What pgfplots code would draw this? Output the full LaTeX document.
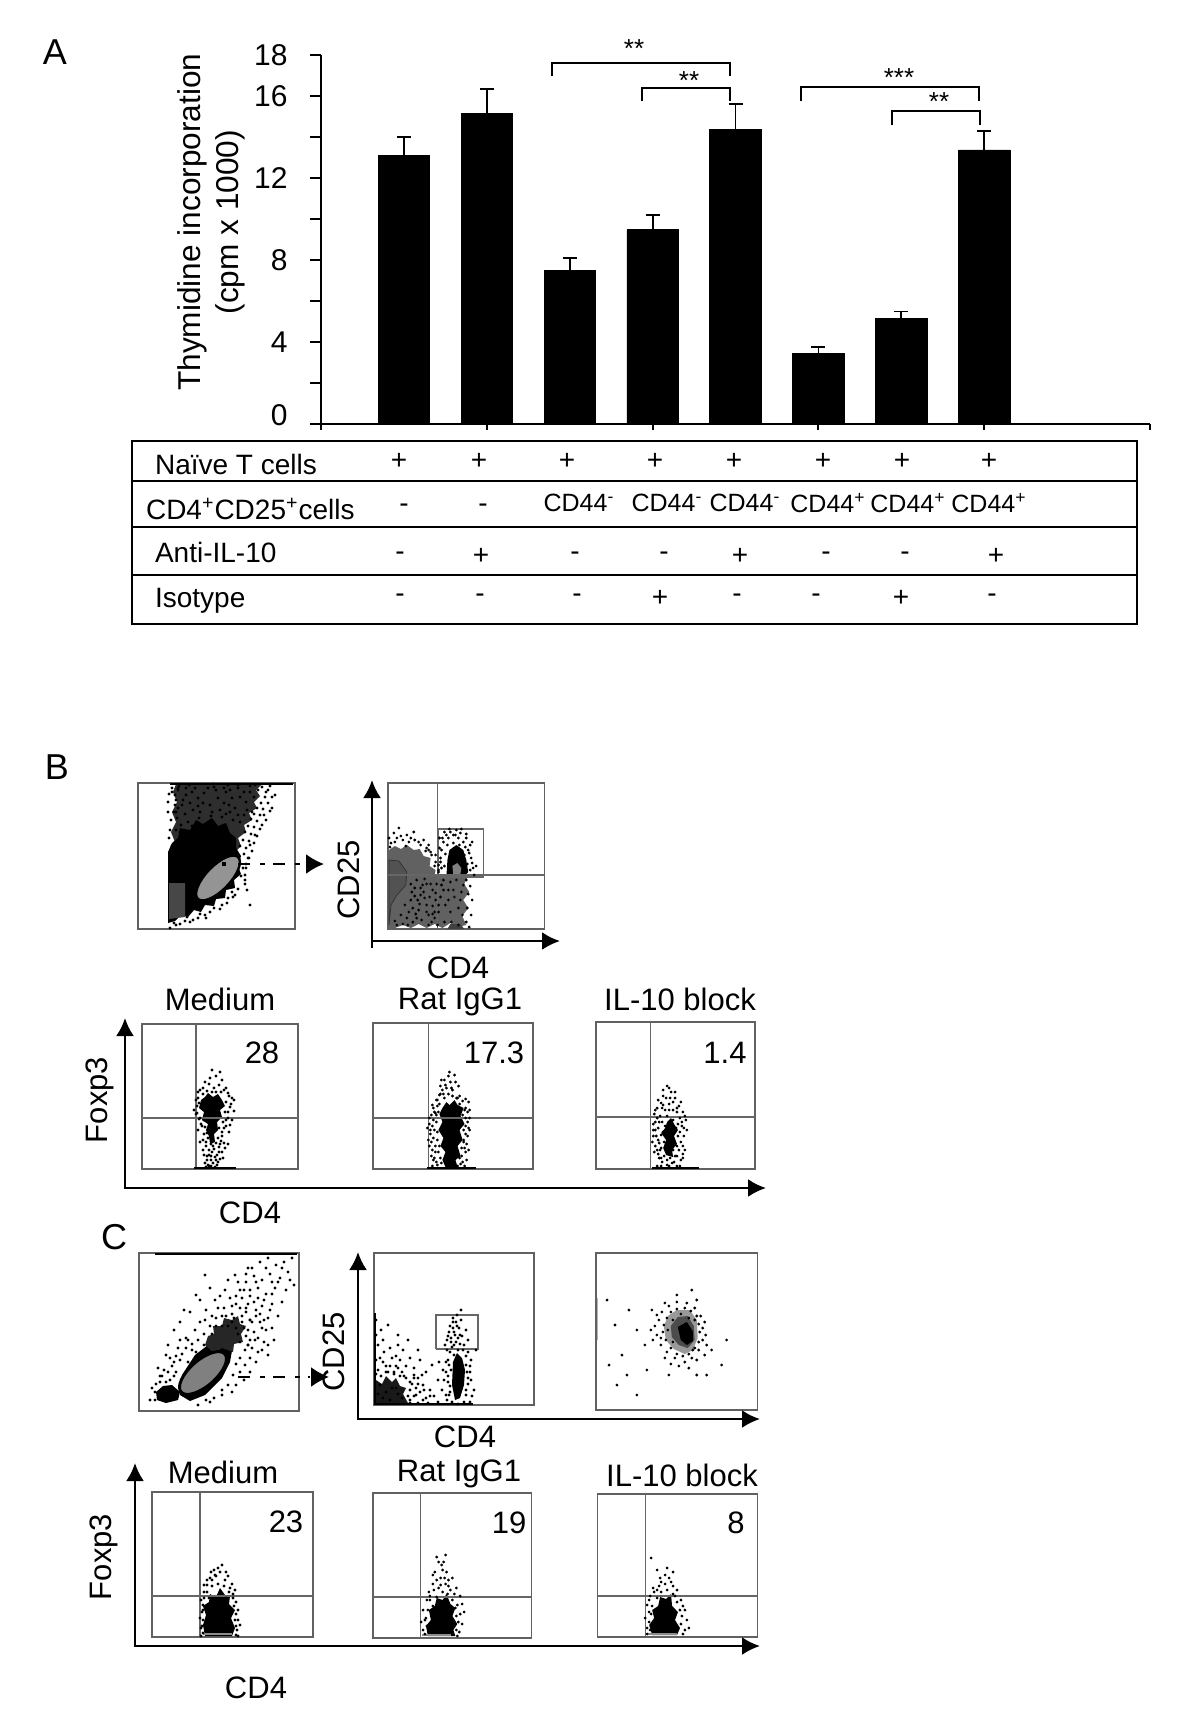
\documentclass[border=0pt]{standalone}
\usepackage{fontspec}
\setmainfont{Liberation Sans}
\usepackage{pgfplots}
\pgfplotsset{compat=1.18}
\usetikzlibrary{arrows.meta}
\newcommand\fs[1]{\fontsize{#1}{#1}\selectfont}
\pgfplotsset{
 flow/.style={scale only axis,anchor=center,ticks=none,y dir=reverse,
   axis line style={draw=black!62,line width=0.7pt}},
 dots/.style={only marks,mark=*,mark size=0.48pt,mark options={draw=none,fill=#1}},
 dots/.default=black,
 blob/.style={draw=none,fill=#1,forget plot},
 blob/.default=black,
 gate/.style={line width=0.55pt,draw=black!60,no marks},
}
\begin{document}
\begin{tikzpicture}
\path[use as bounding box] (0,0) rectangle (600pt,-859.5pt);
% ---------- panel A bars
\begin{axis}[anchor=south west,at={(160.5pt,-212pt)},scale only axis,width=414.5pt,height=184.5pt,
  xmin=0,xmax=10,ymin=0,ymax=18,axis lines=left,
  axis line style={-,line width=1pt},
  tick style={black,line width=1pt},tick align=outside,major tick length=5.5pt,
  xtick={2,4,6,8},xticklabels={},xtick style={yshift=2.75pt},
  ytick={0,2,...,18},
  yticklabels={\raisebox{8.5pt}{0},,4,,8,,12,,16,18},
  yticklabel style={font=\fs{15},inner sep=1pt,xshift=-10pt},
  ylabel={Thymidine incorporation\\(cpm x 1000)},
  every axis y label/.style={at={(axis description cs:-0.132,0.547)},rotate=90,anchor=center,align=center,font=\fontsize{15.8}{19}\selectfont},
  clip=false]
\addplot[ybar,bar width=25.7pt,fill=black,draw=black,
  error bars/.cd,y dir=plus,y explicit,
  error bar style={line width=0.9pt,black},
  error mark options={line width=0.9pt,mark size=3.5pt,black,rotate=90}]
 coordinates {
 (1,13.1) +- (0,0.9)
 (2,15.15) +- (0,1.21)
 (3,7.47) +- (0,0.62)
 (4,9.47) +- (0,0.73)
 (5,14.36) +- (0,1.24)
 (6,3.46) +- (0,0.28)
 (7,5.14) +- (0,0.35)
 (8,13.37) +- (0,0.93)};
\draw[line width=1pt] (axis cs:10,0)--++(0,-2.75pt);
\draw[line width=1pt] (axis cs:0,0)--++(0,-2.75pt);
\end{axis}
% ---------- panel B flow plots
\begin{axis}[flow,at={(108.25pt,-428pt)},width=78.5pt,height=73pt,xmin=138,xmax=295,ymin=783,ymax=929]
\addplot[blob=black!82] coordinates {(176,784)(262,784)(256,790)(260,796)(254,802)(257,808)(249,813)(252,820)(244,825)(246,832)(238,838)(241,846)(235,852)(237,860)(176,860)(170,850)(175,842)(171,832)(176,822)(172,812)(177,802)(173,792)} --cycle;
\addplot[blob] coordinates {(168,923)(168,852)(172,843)(178,838)(180,828)(190,830)(196,820)(203,824)(212,818)(218,826)(226,823)(230,833)(236,838)(236,848)(241,856)(238,866)(241,874)(234,880)(235,888)(226,890)(225,898)(216,899)(214,906)(205,905)(201,912)(194,910)(188,917)(181,915)(175,921)} --cycle;
\addplot[blob=black!72] coordinates {(169,883)(185,883)(185,917)(169,919)} --cycle;
\addplot[dots] coordinates {(172,792)(176,800)(168,812)(170,830)(268,790)(275,795)(272,808)(264,815)(262,825)(255,835)(250,845)(248,858)(246,868)(245,880)(228,898)(222,905)(210,912)(198,918)(185,921)(176,925)(170,928)(255,785)(245,875)(247,890)(235,895)(250,905)(205,915)(190,922)(232,892)
(270,786)(262,787)(266,792)(258,790)(272,797)(265,797)(261,803)(268,803)(257,808)(263,809)(270,811)(254,814)(260,815)(266,820)(251,819)(257,821)(248,826)(254,827)(260,829)(245,832)(251,834)(257,836)(243,840)(249,841)(254,843)(240,846)(246,848)(252,851)(244,854)(249,858)(246,864)(243,868)(241,876)(245,884)(238,889)(233,897)(227,903)(220,909)(214,908)(206,918)(200,914)(193,920)(187,917)(180,924)(174,923)(172,788)(169,794)(175,805)(178,788)(168,802)(171,820)(176,812)(169,838)(172,846)(230,790)(238,785)(250,786)(189,785)(213,784)(228,785)};
\addplot[dots=white] coordinates {(178,790)(186,795)(195,788)(204,793)(214,787)(226,792)(238,788)(250,792)(182,805)(193,810)(203,803)(212,812)(224,803)(235,808)(246,802)(177,818)(188,822)(199,818)(211,816)(222,817)(233,820)(244,815)(180,832)(192,826)(174,812)(198,798)(218,798)(230,812)(208,788)(175,795)(240,797)(185,814)(179,786)(183,800)(178,808)(186,788)(181,825)(190,803)(176,830)(200,812)(210,805)(220,810)(229,805)(238,815)(247,810)(216,790)(192,792)(232,798)(224,788)(244,792)(254,797)(252,812)(240,822)(226,814)(198,806)};
\addplot[line width=1pt,black,no marks] coordinates {(170,784)(293,784)};
\end{axis}
\begin{axis}[flow,at={(233.125pt,-428pt)},width=78.25pt,height=73pt,xmin=389,xmax=547,ymin=783,ymax=929]
\addplot[blob=black!62] coordinates {(390,850)(396,846)(402,849)(408,845)(415,850)(421,849)(425,856)(432,858)(431,866)(437,870)(436,875)(470,875)(466,884)(471,892)(465,900)(470,908)(464,916)(468,925)(458,927)(452,923)(444,928)(436,924)(428,928)(420,924)(412,928)(404,925)(396,928)(390,928)} --cycle;
\addplot[fill=black!68,draw=black!80,line width=0.4pt,forget plot] coordinates {(390,860)(400,861)(408,872)(407,885)(398,895)(392,905)(390,925)} --cycle;
\addplot[dots=black!62] coordinates {(392,843)(398,838)(404,840)(412,838)(420,842)(428,848)(408,835)(395,833)(432,852)(437,855)(425,840)(415,832)(400,828)(430,845)(390,838)(396,842)(402,836)(410,842)(416,840)(422,845)(427,851)(433,855)(437,862)(391,847)(407,846)(430,850)(440,870)(436,866)(468,880)(472,886)(470,894)(474,900)(469,908)(473,915)(468,922)(471,927)};
\addplot[dots=white] coordinates {(416,888)(422,895)(428,905)(434,890)(420,910)(430,915)(437,900)(412,900)(418,918)(424,885)(433,922)(440,905)(445,890)(450,900)(455,890)(460,908)(443,885)(465,885)(426,898)(436,912)(414,922)(452,882)(408,918)(404,924)(396,921)(412,884)(418,880)(426,879)(432,884)(438,884)(413,892)(419,900)(425,892)(431,897)(437,893)(414,908)(421,904)(428,912)(434,906)(440,912)(417,914)(423,920)(430,925)(436,918)(442,897)(447,905)(452,912)(456,897)(462,900)(446,922)(453,922)(460,925)(464,915)(410,912)(406,905)(402,915)(398,925)(409,925)(445,880)(458,880)(463,892)(450,890)(439,925)(422,888)(428,884)(416,896)(434,914)};
\addplot[blob] coordinates {(449,860)(451,850)(458,845)(465,850)(468,860)(470,872)(466,876)(448,876)} --cycle;
\addplot[blob=black!50] coordinates {(454,866)(459,863)(463,868)(462,875)(455,875)} --cycle;
\addplot[dots] coordinates {(441,848)(445,842)(450,838)(455,835)(460,838)(465,842)(470,850)(473,858)(475,868)(442,858)(443,868)(452,832)(458,830)(468,838)(472,845)(440,865)(476,875)(462,833)(448,835)(466,855)(441,838)(446,832)(451,829)(457,835)(463,829)(468,834)(474,842)(444,838)(449,845)(455,843)(461,845)(467,847)(443,850)(447,854)(471,853)(474,863)(442,862)(440,872)(472,870)(478,866)(446,866)(469,864)};
\addplot[blob=black!75] coordinates {(449,929)(452,924)(462,924)(466,929)} --cycle;
\addplot[gate] coordinates {(439,783)(439,929)};
\addplot[gate] coordinates {(389,875)(547,875)};
\addplot[gate] coordinates {(440,877)(440,829)(485,829)(485,877)(440,877)};
\end{axis}
\begin{axis}[flow,at={(110pt,-548.25pt)},width=78pt,height=72.5pt,xmin=142,xmax=298,ymin=1024,ymax=1169]
\addplot[blob] coordinates {(201,1100)(205,1097)(208,1093)(213,1097)(218,1094)(222,1100)(225,1106)(220,1110)(222,1117)(217,1122)(218,1130)(214,1134)(215,1142)(210,1144)(209,1136)(206,1130)(208,1124)(202,1120)(204,1112)(199,1108)} --cycle;
\addplot[dots] coordinates {(205,1082)(210,1078)(216,1076)(222,1080)(200,1090)(198,1098)(226,1088)(229,1096)(231,1104)(197,1106)(196,1114)(228,1112)(226,1120)(200,1118)(202,1126)(224,1128)(222,1136)(204,1134)(206,1142)(220,1144)(203,1150)(207,1156)(219,1152)(223,1158)(211,1160)(215,1157)(205,1163)(217,1165)(212,1070)(220,1072)(209,1166)(213,1146)(208,1165)(234,1100)(194,1110)(228,1144)(200,1142)(212,1152)(218,1162)(209,1155)(225,1148)(198,1130)(230,1125)
(198,1092)(203,1088)(209,1084)(214,1088)(219,1085)(224,1090)(228,1093)(232,1098)(196,1100)(199,1103)(226,1102)(230,1107)(234,1111)(197,1113)(199,1119)(225,1112)(228,1118)(232,1120)(201,1124)(204,1120)(223,1122)(226,1126)(229,1132)(205,1127)(207,1133)(219,1128)(222,1132)(208,1138)(203,1140)(218,1138)(221,1141)(206,1146)(211,1144)(216,1143)(219,1147)(224,1143)(204,1155)(209,1150)(214,1149)(217,1155)(222,1152)(207,1160)(211,1156)(216,1160)(220,1159)(206,1167)(213,1163)(211,1166)(215,1167)(203,1094)(207,1091)(216,1092)(221,1092)(212,1092)};
\addplot[gate] coordinates {(196,1024)(196,1169)};
\addplot[gate] coordinates {(142,1118)(299,1118)};
\addplot[line width=0.8pt,black,no marks] coordinates {(194,1168)(236,1168)};
\end{axis}
\begin{axis}[flow,at={(226.5pt,-548pt)},width=80pt,height=73pt,xmin=374,xmax=533,ymin=1023,ymax=1169]
\addplot[blob] coordinates {(443,1108)(447,1102)(450,1105)(455,1100)(458,1105)(464,1108)(461,1116)(465,1124)(460,1130)(463,1140)(458,1146)(461,1156)(456,1160)(458,1167)(446,1167)(443,1160)(446,1152)(441,1146)(444,1138)(439,1130)(443,1122)(440,1114)} --cycle;
\addplot[dots] coordinates {(440,1095)(447,1088)(453,1090)(460,1096)(433,1105)(466,1108)(430,1118)(468,1122)(431,1130)(466,1134)(432,1142)(465,1148)(436,1152)(462,1156)(437,1162)(461,1164)(442,1080)(450,1072)(456,1082)(428,1128)(470,1130)(434,1160)(464,1142)(444,1094)(457,1098)(438,1100)(463,1115)(429,1140)(467,1160)(455,1075)(446,1085)(469,1102)(433,1150)(460,1104)(435,1112)
(437,1100)(441,1094)(445,1098)(449,1094)(453,1096)(458,1098)(463,1101)(466,1099)(434,1108)(438,1106)(465,1110)(468,1112)(432,1115)(436,1113)(439,1112)(466,1118)(470,1118)(430,1124)(434,1120)(437,1122)(466,1126)(469,1128)(431,1134)(435,1130)(438,1132)(464,1130)(468,1136)(430,1146)(434,1138)(438,1140)(440,1146)(464,1140)(467,1144)(432,1156)(436,1146)(439,1152)(441,1158)(462,1148)(466,1152)(435,1158)(438,1165)(442,1163)(460,1158)(463,1162)(433,1166)(458,1166)(465,1166)(441,1086)(445,1080)(451,1082)(459,1086)(449,1076)(440,1104)(443,1090)(452,1088)(437,1115)(470,1110)(433,1126)(469,1150)};
\addplot[gate] coordinates {(429,1023)(429,1169)};
\addplot[gate] coordinates {(374,1118)(533,1118)};
\addplot[line width=0.8pt,black,no marks] coordinates {(428,1168)(476,1168)};
\end{axis}
\begin{axis}[flow,at={(337.75pt,-547.75pt)},width=79.5pt,height=73.5pt,xmin=598,xmax=759,ymin=1022,ymax=1169]
\addplot[blob] coordinates {(670,1122)(674,1118)(677,1124)(681,1130)(677,1136)(680,1144)(675,1150)(676,1157)(669,1155)(666,1148)(669,1140)(664,1133)(668,1128)} --cycle;
\addplot[dots] coordinates {(670,1086)(674,1092)(666,1096)(678,1098)(664,1103)(672,1104)(682,1106)(660,1108)(668,1110)(676,1110)(686,1112)(657,1114)(663,1116)(683,1118)(689,1120)(658,1122)(661,1128)(685,1126)(656,1130)(683,1132)(687,1136)(659,1136)(655,1142)(662,1143)(684,1142)(660,1150)(682,1150)(688,1150)(657,1152)(662,1158)(678,1156)(684,1160)(665,1162)(675,1163)(670,1165)(680,1166)(660,1166)(666,1105)(680,1112)(673,1098)(665,1122)(681,1124)(687,1128)(664,1135)(663,1150)(686,1158)
(666,1090)(672,1088)(678,1092)(669,1098)(661,1100)(676,1102)(684,1102)(658,1110)(665,1108)(672,1110)(680,1108)(688,1116)(660,1118)(670,1116)(676,1120)(685,1122)(656,1124)(662,1122)(668,1126)(679,1128)(690,1130)(658,1130)(666,1132)(675,1134)(681,1136)(656,1136)(661,1140)(667,1142)(674,1144)(680,1146)(686,1146)(658,1146)(664,1148)(670,1152)(676,1150)(661,1154)(667,1156)(673,1158)(680,1156)(686,1154)(664,1158)(670,1160)(677,1162)(672,1166)(664,1166)(683,1166)};
\addplot[gate] coordinates {(653,1022)(653,1169)};
\addplot[gate] coordinates {(598,1117)(759,1117)};
\addplot[line width=0.8pt,black,no marks] coordinates {(655,1168)(702,1168)};
\end{axis}
% ---------- panel C flow plots
\begin{axis}[flow,at={(109.5pt,-666pt)},width=80pt,height=79pt,xmin=139,xmax=299,ymin=1253,ymax=1411]
\addplot[blob] coordinates {(157,1400)(156,1392)(163,1386)(172,1385)(180,1392)(178,1400)(166,1403)} --cycle;
\addplot[blob] coordinates {(180,1395)(182,1375)(195,1355)(212,1342)(228,1335)(233,1345)(230,1362)(222,1378)(205,1395)(190,1401)} --cycle;
\addplot[blob=black!85] coordinates {(205,1345)(208,1336)(214,1334)(213,1326)(222,1326)(224,1318)(232,1320)(238,1316)(240,1324)(246,1326)(241,1334)(243,1342)(234,1344)(233,1352)(222,1348)(214,1353)} --cycle;
\addplot[dots] coordinates {(292,1258)(284,1262)(276,1265)(268,1258)(260,1262)(252,1268)(288,1272)(280,1278)(270,1274)(262,1280)(254,1276)(246,1282)(294,1285)(286,1290)(275,1288)(266,1294)(258,1288)(250,1296)(240,1290)(282,1302)(272,1304)(262,1306)(254,1302)(246,1308)(236,1304)(230,1298)(278,1316)(268,1318)(260,1314)(250,1320)(242,1316)(232,1314)(224,1308)(215,1300)(272,1328)(262,1328)(254,1332)(244,1328)(274,1340)(264,1342)(255,1340)(248,1345)(240,1342)(268,1355)(258,1352)(250,1358)(245,1365)(240,1372)(236,1385)(232,1392)(222,1395)(210,1402)(198,1405)(205,1320)(195,1330)(186,1338)(178,1348)(170,1358)(164,1370)(160,1382)(155,1392)(190,1312)(200,1300)(210,1288)(180,1322)(168,1345)(174,1362)(162,1376)(182,1354)(192,1344)(150,1400)(205,1275)(248,1268)(235,1275)(225,1290)(216,1318)(222,1326)(212,1334)(204,1345)(196,1352)(188,1362)(232,1322)(238,1334)(246,1336)(252,1348)(176,1372)(170,1380)(164,1390)
(250,1320)(246,1312)(240,1308)(234,1318)(228,1326)(222,1316)(216,1326)(210,1326)(204,1334)(198,1340)(192,1350)(186,1348)(180,1360)(176,1356)(172,1366)(168,1372)(160,1376)(156,1384)(152,1388)(155,1400)(236,1328)(242,1322)(248,1330)(252,1322)(256,1316)(260,1322)(258,1338)(250,1340)(245,1350)(240,1358)(236,1364)(233,1375)(228,1385)(222,1390)(214,1398)(206,1400)(264,1320)(266,1330)(270,1310)(256,1310)(248,1304)(242,1298)(236,1296)(250,1290)(258,1298)(264,1300)(272,1294)(278,1282)(266,1268)(272,1282)(282,1268)(290,1280)(256,1282)(244,1290)(232,1306)(226,1316)(218,1308)(212,1316)(206,1310)(200,1322)(246,1274)(238,1282)(228,1280)(220,1296)(196,1295)(184,1310)(174,1330)(166,1355)(158,1368)(160,1392)(166,1382)(174,1376)(188,1340)(180,1340)(248,1345)(262,1350)(268,1345)(256,1362)(250,1372)(244,1380)};
\addplot[line width=0.8pt,black,no marks] coordinates {(155,1254)(297,1254)};
\end{axis}
\begin{axis}[flow,at={(227pt,-664.5pt)},width=80pt,height=76pt,xmin=376,xmax=536,ymin=1253,ymax=1405]
\addplot[blob=black!90] coordinates {(378,1403)(378,1380)(384,1384)(388,1376)(394,1382)(398,1378)(402,1386)(408,1388)(405,1394)(410,1403)} --cycle;
\addplot[blob] coordinates {(455,1362)(459,1353)(464,1358)(467,1370)(466,1385)(462,1398)(457,1400)(454,1385)} --cycle;
\addplot[dots=white] coordinates {(382,1385)(388,1392)(394,1388)(400,1394)(385,1398)(392,1400)(380,1394)(398,1388)(404,1398)};
\addplot[dots] coordinates {(380,1345)(386,1352)(392,1348)(398,1356)(405,1350)(412,1358)(385,1362)(392,1366)(400,1368)(408,1366)(416,1368)(422,1360)(428,1372)(420,1378)(414,1384)(425,1385)(432,1390)(418,1395)(428,1398)(436,1396)(440,1380)(445,1370)(383,1330)(390,1325)(400,1335)(410,1340)(396,1372)(406,1376)(380,1370)(388,1372)(418,1388)(412,1400)(430,1403)(440,1402)(420,1350)(434,1365)(400,1345)(385,1340)(378,1320)(378,1335)(455,1318)(458,1322)(452,1326)(461,1328)(456,1332)(450,1336)(464,1336)(453,1342)(466,1345)(449,1350)(470,1352)(450,1360)(468,1365)(472,1372)(448,1372)(450,1382)(470,1384)(452,1392)(468,1395)(449,1400)(472,1402)(444,1390)(476,1390)(459,1315)(463,1310)(441,1362)(478,1350)(447,1345)(462,1335)(456,1345)(473,1360)
(378,1374)(383,1376)(390,1372)(396,1374)(402,1376)(408,1378)(412,1382)(416,1378)(420,1384)(412,1390)(416,1396)(422,1392)(426,1390)(410,1396)(412,1403)(420,1403)(425,1400)(432,1396)(404,1372)(398,1366)(388,1366)(382,1358)(378,1360)(394,1358)(402,1360)(416,1375)(424,1375)
(455,1322)(459,1326)(455,1328)(457,1335)(460,1338)(453,1338)(458,1342)(462,1344)(454,1347)(460,1350)(465,1350)(452,1352)(456,1355)(468,1356)(451,1365)(453,1370)(469,1372)(450,1376)(470,1378)(452,1386)(468,1390)(451,1395)(454,1402)(466,1402)(460,1404)(448,1362)(472,1366)(446,1380)(473,1380)(448,1395)(474,1396)(463,1320)(468,1330)(470,1340)(451,1332)(449,1340)};
\addplot[gate] coordinates {(438,1349)(438,1315)(480,1315)(480,1349)(438,1349)};
\addplot[line width=0.7pt,black,no marks] coordinates {(377,1313)(377,1404)(475,1404)};
\end{axis}
\begin{axis}[flow,at={(338.4pt,-665.75pt)},width=80.75pt,height=78.5pt,xmin=599,xmax=761,ymin=1253,ymax=1410]
\addplot[dots=black!25] coordinates {(610,1300)(618,1325)(625,1355)(632,1310)(640,1330)(612,1365)(630,1375)(620,1385)(648,1345)(655,1310)(650,1370)(640,1395)(715,1350)(725,1365)(710,1375)(730,1340)(680,1295)(695,1290)(700,1375)(672,1375)};
\addplot[dots=black!50] coordinates {(662,1320)(665,1312)(672,1306)(680,1302)(690,1303)(698,1308)(704,1316)(706,1328)(706,1340)(702,1350)(695,1358)(688,1362)(678,1358)(670,1352)(664,1345)(660,1335)(658,1326)(668,1303)(700,1300)(709,1335)(682,1366)(692,1368)(674,1364)(656,1340)};
\addplot[blob=black!40] coordinates {(667,1326)(671,1316)(680,1310)(693,1310)(700,1320)(701,1338)(696,1350)(688,1354)(677,1349)(669,1340)} --cycle;
\addplot[dots=black!70] coordinates {(670,1318)(674,1312)(680,1309)(688,1308)(694,1311)(700,1316)(702,1324)(703,1332)(702,1342)(698,1348)(692,1354)(686,1356)(680,1354)(674,1348)(669,1340)(666,1332)(667,1325)(671,1330)(676,1320)(684,1314)(692,1318)(698,1320)(696,1350)(676,1342)(664,1338)(708,1322)(710,1345)(660,1315)(654,1330)(668,1358)(700,1360)(708,1355)};
\addplot[blob=black!70] coordinates {(674,1326)(681,1317)(691,1316)(697,1326)(698,1340)(691,1348)(682,1345)(675,1337)} --cycle;
\addplot[blob] coordinates {(681,1327)(690,1322)(696,1331)(696,1341)(690,1345)(684,1340)} --cycle;
\addplot[line width=0.4pt,black!30,no marks] coordinates {(600,1298)(600,1340)};
\end{axis}
\begin{axis}[flow,at={(116.25pt,-782.25pt)},width=80.5pt,height=72.5pt,xmin=152,xmax=313,ymin=1492,ymax=1637]
\addplot[blob] coordinates {(205,1636)(203,1625)(206,1615)(203,1606)(209,1602)(210,1594)(216,1597)(220,1588)(225,1595)(230,1596)(229,1604)(235,1610)(231,1618)(235,1628)(232,1636)} --cycle;
\addplot[dots] coordinates {(215,1575)(220,1572)(212,1580)(225,1580)(207,1585)(230,1588)(204,1592)(233,1594)(201,1600)(236,1602)(203,1610)(238,1610)(200,1618)(238,1620)(201,1628)(237,1630)(210,1578)(228,1576)(218,1568)(222,1565)(214,1570)(235,1590)(240,1625)(207,1580)(232,1584)(204,1598)(207,1592)(212,1586)(218,1584)(224,1586)(229,1592)(233,1598)(203,1605)(234,1606)(202,1612)(236,1614)(203,1620)(235,1620)(202,1626)(236,1626)(203,1633)(236,1635)(201,1636)(238,1636)(209,1598)(226,1598)(216,1576)(211,1572)(226,1572)(204,1585)};
\addplot[gate] coordinates {(200,1492)(200,1637)};
\addplot[gate] coordinates {(152,1596)(313,1596)};
\addplot[line width=0.8pt,black!45,no marks] coordinates {(203,1634)(232,1634)};
\end{axis}
\begin{axis}[flow,at={(226.2pt,-782.75pt)},width=79.3pt,height=72.5pt,xmin=375,xmax=537,ymin=1493,ymax=1638]
\addplot[blob] coordinates {(431,1636)(429,1626)(434,1620)(432,1610)(438,1606)(440,1598)(446,1600)(450,1594)(454,1604)(459,1608)(456,1616)(461,1624)(457,1630)(459,1636)} --cycle;
\addplot[dots] coordinates {(440,1557)(445,1565)(438,1572)(450,1572)(444,1578)(456,1578)(436,1584)(449,1584)(460,1588)(432,1592)(464,1596)(430,1600)(466,1604)(426,1610)(464,1614)(428,1620)(466,1624)(426,1630)(463,1632)(442,1588)(454,1590)(437,1590)(458,1594)(447,1562)(452,1580)(468,1612)(424,1622)(433,1596)(461,1605)(436,1575)(433,1600)(436,1606)(440,1597)(446,1592)(451,1594)(456,1600)(459,1608)(431,1610)(460,1616)(429,1618)(462,1622)(430,1626)(460,1630)(428,1634)(461,1636)(444,1585)(448,1578)(440,1580)(452,1586)(446,1570)(442,1562)(449,1555)};
\addplot[gate] coordinates {(423,1493)(423,1638)};
\addplot[gate] coordinates {(375,1597)(537,1597)};
\addplot[line width=0.8pt,black!45,no marks] coordinates {(425,1635)(455,1635)};
\end{axis}
\begin{axis}[flow,at={(338.75pt,-782.75pt)},width=80pt,height=71.5pt,xmin=600,xmax=761,ymin=1494,ymax=1637]
\addplot[blob] coordinates {(655,1635)(652,1625)(657,1618)(655,1610)(661,1606)(663,1597)(669,1599)(674,1594)(675,1606)(681,1612)(678,1620)(683,1628)(680,1635)} --cycle;
\addplot[dots] coordinates {(660,1570)(668,1575)(664,1582)(674,1582)(656,1588)(680,1590)(653,1596)(684,1600)(650,1605)(688,1610)(648,1618)(690,1620)(650,1628)(688,1630)(662,1586)(672,1578)(678,1596)(657,1592)(686,1606)(652,1612)(654,1558)(692,1628)(676,1572)(652,1600)(655,1606)(660,1598)(664,1592)(670,1590)(676,1594)(680,1602)(683,1610)(654,1614)(685,1616)(652,1622)(684,1624)(653,1630)(686,1634)(660,1590)(668,1584)(676,1586)(650,1634)(663,1578)(670,1568)};
\addplot[gate] coordinates {(648,1494)(648,1637)};
\addplot[gate] coordinates {(600,1596)(761,1596)};
\addplot[line width=0.8pt,black!45,no marks] coordinates {(650,1634)(680,1634)};
\end{axis}
% ---------- annotations in reference pixels
\begin{scope}[x=0.5pt,y=-0.5pt]
\node[font=\fs{18}] at (55,52) {A};
\node[font=\fs{18}] at (57,767) {B};
\node[font=\fs{18}] at (114,1237) {C};
% brackets
\draw[line width=1.2pt] (552,76)--(552,63)--(730,63)--(730,76);
\draw[line width=1.2pt] (642,101)--(642,88)--(730,88)--(730,101);
\draw[line width=1.2pt] (801,101)--(801,87)--(979,87)--(979,101);
\draw[line width=1.2pt] (892,125)--(892,111)--(980,111)--(980,125);
\node[font=\fs{13}] at (634,49) {**};
\node[font=\fs{13}] at (689,81) {**};
\node[font=\fs{13}] at (899,78) {***};
\node[font=\fs{13}] at (939,102) {**};
% table
\draw[line width=1pt] (132,441) rectangle (1137,624);
\draw[line width=1pt] (132,481)--(1137,481) (132,527)--(1137,527) (132,575)--(1137,575);
\node[anchor=west,font=\fs{14}] at (148,464) {Naïve T cells};
\node[anchor=west,font=\fs{14}] at (139,509) {CD4\textsuperscript{+}CD25\textsuperscript{+}cells};
\node[anchor=west,font=\fs{14}] at (148,552) {Anti-IL-10};
\node[anchor=west,font=\fs{14}] at (148,601) {Isotype};
\foreach \x in {399,479,567,655,734,823,902,989} \node[font=\fs{14}] at (\x,461) {+};
\node[font=\fs{14}] at (404,508) {-};
\node[font=\fs{14}] at (483,508) {-};
\foreach \x in {579,667,745} \node[font=\fs{12.5}] at (\x,503) {CD44\textsuperscript{-}};
\foreach \x in {828,908,989} \node[font=\fs{12.5}] at (\x,503) {CD44\textsuperscript{+}};
\foreach \x/\s in {400/-,481/+,575/-,664/-,740/+,826/-,905/-,996/+} \node[font=\fs{14}] at (\x,556) {\s};
\foreach \x/\s in {400/-,480/-,577/-,660/+,737/-,816/-,901/+,992/-} \node[font=\fs{14}] at (\x,598) {\s};
% gates
\draw[line width=1.2pt,fill=black!42,rotate around={46:(218,878)}] (218,878) ellipse [x radius=29,y radius=12];
\draw[line width=1.5pt,fill=black!50,rotate around={41:(203,1373)}] (203,1373) ellipse [x radius=29,y radius=13];
\fill (222,862) rectangle (226,866);
% dash-dot arrows
\draw[line width=1.2pt,dash pattern=on 6pt off 5pt on 2.5pt off 4pt] (238,864)--(305,864);
\draw[line width=1pt,-{Latex[length=9pt,width=10pt]}] (310,864)--(324,864);
\draw[line width=1.2pt,dash pattern=on 6pt off 5pt on 2.5pt off 4pt] (238,1377)--(310,1377);
\draw[line width=1pt,-{Latex[length=9pt,width=10pt]}] (312,1377)--(329,1377);
% axis arrows
\tikzset{ar/.style={line width=1.25pt,-{Latex[length=9pt,width=9pt]}}}
\draw[ar] (372,948)--(372,780);
\draw[ar] (372,941)--(560,941);
\draw[ar] (125,1188)--(125,1018);
\draw[ar] (124,1188)--(766,1188);
\draw[ar] (358,1419)--(358,1252);
\draw[ar] (357,1419)--(760,1419);
\draw[ar] (135,1646)--(135,1463);
\draw[ar] (134,1646)--(760,1646);
% labels
\node[font=\fs{15.5},rotate=90] at (349,880) {CD25};
\node[font=\fs{15.5}] at (458,968) {CD4};
\node[font=\fs{15.5}] at (220,999) {Medium};
\node[font=\fs{15.5}] at (460,1002) {Rat IgG1};
\node[font=\fs{15.5}] at (680,999) {IL-10 block};
\node[font=\fs{15.5}] at (262,1053) {28};
\node[font=\fs{15.5}] at (494,1053) {17.3};
\node[font=\fs{15.5}] at (725,1053) {1.4};
\node[font=\fs{15.5},rotate=90] at (100,1100) {Foxp3};
\node[font=\fs{15.5}] at (250,1213) {CD4};
\node[font=\fs{15.5},rotate=90] at (334,1352) {CD25};
\node[font=\fs{15.5}] at (465,1437) {CD4};
\node[font=\fs{15.5}] at (223,1472) {Medium};
\node[font=\fs{15.5}] at (459,1474) {Rat IgG1};
\node[font=\fs{15.5}] at (682,1475) {IL-10 block};
\node[font=\fs{15.5}] at (286,1522) {23};
\node[font=\fs{15.5}] at (509,1523) {19};
\node[font=\fs{15.5}] at (736,1523) {8};
\node[font=\fs{15.5},rotate=90] at (104,1557) {Foxp3};
\node[font=\fs{15.5}] at (256,1688) {CD4};
\end{scope}
\end{tikzpicture}
\end{document}
